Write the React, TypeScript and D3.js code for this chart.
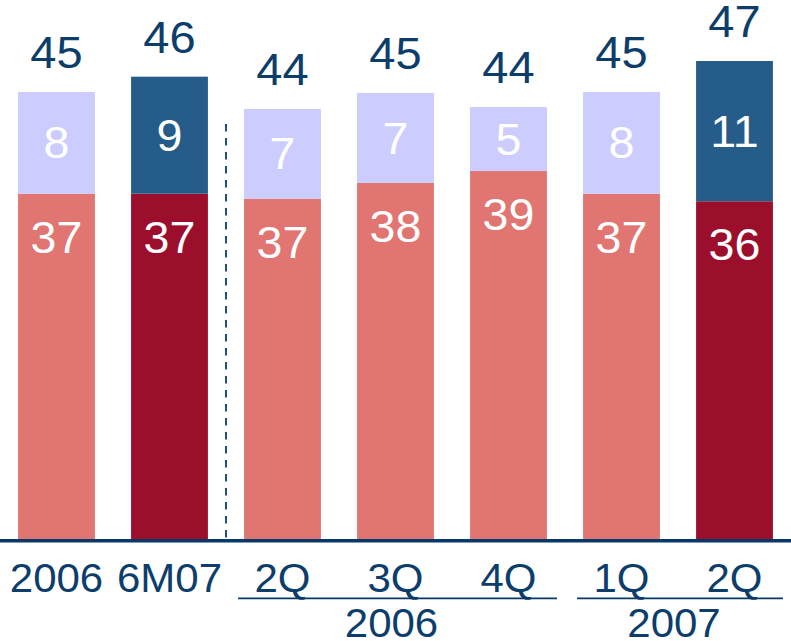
import React from "react";
import * as d3 from "d3";

const categories = ["2006", "6M07", "2Q", "3Q", "4Q", "1Q", "2Q "];
const tickLabels = ["2006", "6M07", "2Q", "3Q", "4Q", "1Q", "2Q"];
const baseValues = [37.08, 37.08, 36.67, 37.92, 38.86, 37.08, 36.49];
const topValues = [7.98, 9.18, 7.06, 7.06, 5.02, 7.98, 11.0];
const highlighted = [false, true, false, false, false, false, true];
const groups = [
  { label: "2006", from: "2Q", to: "4Q" },
  { label: "2007", from: "1Q", to: "2Q " },
];
const dividerAfter = "6M07";

const W = 791;
const H = 641;
const baseY = 539;
const FONT = "'Liberation Sans', Arial, Helvetica, sans-serif";
const NAVY = "#0c3d6b";
const AXIS = "#063868";
const COLORS = {
  base: "#e07571",
  baseHi: "#9c0f2c",
  top: "#ccccff",
  topHi: "#265c89",
};

function Label({
  x,
  y,
  size,
  fill,
  sx,
  children,
}: {
  x: number;
  y: number;
  size: number;
  fill: string;
  sx: number;
  children: React.ReactNode;
}) {
  return (
    <text
      transform={`translate(${x},${y}) scale(${sx},1)`}
      textAnchor="middle"
      fontSize={size}
      fill={fill}
    >
      {children}
    </text>
  );
}

export default function App() {
  const x = d3
    .scaleBand<string>()
    .domain(categories)
    .range([0, W])
    .paddingInner(0.32)
    .paddingOuter(0.16);
  const y = d3.scaleLinear().domain([10, 50]).range([baseY, 29]);
  const bw = x.bandwidth();
  const fmt = d3.format(".0f");

  const divX =
    (x(dividerAfter)! + bw + x(categories[categories.indexOf(dividerAfter) + 1])!) / 2;

  return (
    <svg
      width={W}
      height={H}
      style={{ position: "absolute", left: 0, top: 0 }}
      fontFamily={FONT}
    >
      {categories.map((c, i) => {
        const x0 = x(c)!;
        const cx = x0 + bw / 2;
        const b = baseValues[i];
        const t = topValues[i];
        const total = b + t;
        const hi = highlighted[i];
        return (
          <g key={c}>
            <rect
              x={x0}
              y={y(b)}
              width={bw}
              height={y(10) - y(b)}
              fill={hi ? COLORS.baseHi : COLORS.base}
            />
            <rect
              x={x0}
              y={y(total)}
              width={bw}
              height={y(b) - y(total)}
              fill={hi ? COLORS.topHi : COLORS.top}
            />
            <Label x={cx} y={y(b) + 59} size={44} fill="#ffffff" sx={1.06}>
              {fmt(b)}
            </Label>
            <Label
              x={cx}
              y={(y(b) + y(total)) / 2 + 15.5}
              size={44}
              fill="#ffffff"
              sx={1.06}
            >
              {fmt(t)}
            </Label>
            <Label x={cx} y={y(total) - 24} size={44} fill={NAVY} sx={1.07}>
              {fmt(total)}
            </Label>
            <Label x={cx} y={592} size={40} fill={NAVY} sx={1.05}>
              {tickLabels[i]}
            </Label>
          </g>
        );
      })}
      <line
        x1={divX}
        x2={divX}
        y1={124}
        y2={baseY}
        stroke="#1f4f7c"
        strokeWidth={2}
        strokeDasharray="7.5,6.5"
      />
      <line x1={0} x2={W} y1={540.8} y2={540.8} stroke={AXIS} strokeWidth={3.5} />
      {groups.map((g) => {
        const gx0 = x(g.from)! - 6;
        const gx1 = x(g.to)! + bw + 10;
        const gc = (x(g.from)! + x(g.to)! + bw) / 2 - 4;
        return (
          <g key={g.label}>
            <line x1={gx0} x2={gx1} y1={598.3} y2={598.3} stroke={AXIS} strokeWidth={1.8} />
            <Label x={gc} y={637} size={40} fill={NAVY} sx={1.05}>
              {g.label}
            </Label>
          </g>
        );
      })}
    </svg>
  );
}
